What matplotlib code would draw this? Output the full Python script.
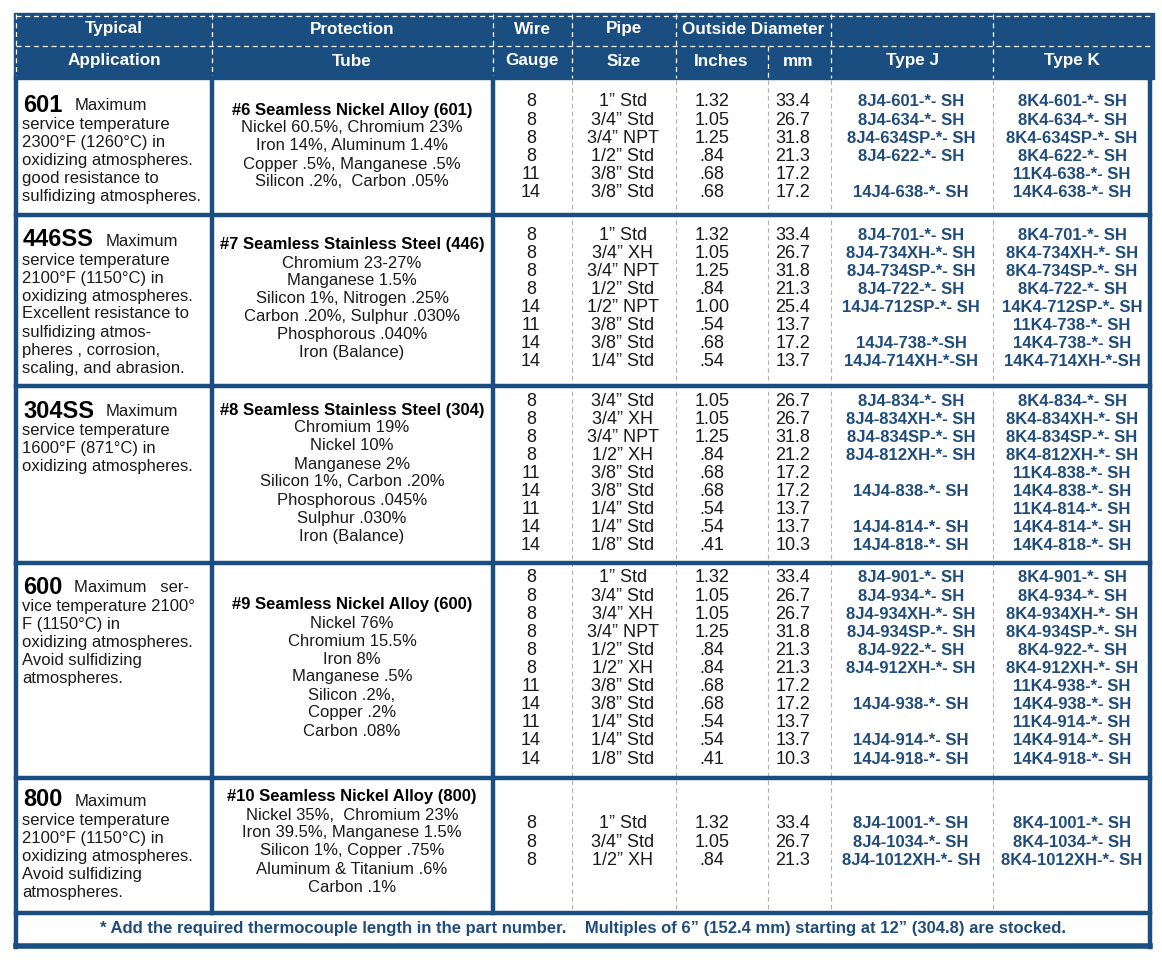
import matplotlib.pyplot as plt
from matplotlib.patches import Rectangle

# table contents, one list per section
app_codes = ['601', '446SS', '304SS', '600', '800']
app_texts = [
    ['Maximum', 'service temperature', '2300°F (1260°C) in', 'oxidizing atmospheres.',
     'good resistance to', 'sulfidizing atmospheres.'],
    ['Maximum', 'service temperature', '2100°F (1150°C) in', 'oxidizing atmospheres.',
     'Excellent resistance to', 'sulfidizing atmos-', 'pheres , corrosion,', 'scaling, and abrasion.'],
    ['Maximum', 'service temperature', '1600°F (871°C) in', 'oxidizing atmospheres.'],
    ['Maximum   ser-', 'vice temperature 2100°', 'F (1150°C) in', 'oxidizing atmospheres.',
     'Avoid sulfidizing', 'atmospheres.'],
    ['Maximum', 'service temperature', '2100°F (1150°C) in', 'oxidizing atmospheres.',
     'Avoid sulfidizing', 'atmospheres.'],
]
tube_titles = ['#6 Seamless Nickel Alloy (601)', '#7 Seamless Stainless Steel (446)',
               '#8 Seamless Stainless Steel (304)', '#9 Seamless Nickel Alloy (600)',
               '#10 Seamless Nickel Alloy (800)']
tube_lines = [
    ['Nickel 60.5%, Chromium 23%', 'Iron 14%, Aluminum 1.4%', 'Copper .5%, Manganese .5%',
     'Silicon .2%,  Carbon .05%'],
    ['Chromium 23-27%', 'Manganese 1.5%', 'Silicon 1%, Nitrogen .25%', 'Carbon .20%, Sulphur .030%',
     'Phosphorous .040%', 'Iron (Balance)'],
    ['Chromium 19%', 'Nickel 10%', 'Manganese 2%', 'Silicon 1%, Carbon .20%', 'Phosphorous .045%',
     'Sulphur .030%', 'Iron (Balance)'],
    ['Nickel 76%', 'Chromium 15.5%', 'Iron 8%', 'Manganese .5%', 'Silicon .2%,', 'Copper .2%',
     'Carbon .08%'],
    ['Nickel 35%,  Chromium 23%', 'Iron 39.5%, Manganese 1.5%', 'Silicon 1%, Copper .75%',
     'Aluminum & Titanium .6%', 'Carbon .1%'],
]
gauges = [
    ['8', '8', '8', '8', '11', '14'],
    ['8', '8', '8', '8', '14', '11', '14', '14'],
    ['8', '8', '8', '8', '11', '14', '11', '14', '14'],
    ['8', '8', '8', '8', '8', '8', '11', '14', '11', '14', '14'],
    ['8', '8', '8'],
]
pipes = [
    ['1” Std', '3/4” Std', '3/4” NPT', '1/2” Std', '3/8” Std', '3/8” Std'],
    ['1” Std', '3/4” XH', '3/4” NPT', '1/2” Std', '1/2” NPT', '3/8” Std', '3/8” Std', '1/4” Std'],
    ['3/4” Std', '3/4” XH', '3/4” NPT', '1/2” XH', '3/8” Std', '3/8” Std', '1/4” Std', '1/4” Std',
     '1/8” Std'],
    ['1” Std', '3/4” Std', '3/4” XH', '3/4” NPT', '1/2” Std', '1/2” XH', '3/8” Std', '3/8” Std',
     '1/4” Std', '1/4” Std', '1/8” Std'],
    ['1” Std', '3/4” Std', '1/2” XH'],
]
od_inches = [
    ['1.32', '1.05', '1.25', '.84', '.68', '.68'],
    ['1.32', '1.05', '1.25', '.84', '1.00', '.54', '.68', '.54'],
    ['1.05', '1.05', '1.25', '.84', '.68', '.68', '.54', '.54', '.41'],
    ['1.32', '1.05', '1.05', '1.25', '.84', '.84', '.68', '.68', '.54', '.54', '.41'],
    ['1.32', '1.05', '.84'],
]
od_mm = [
    ['33.4', '26.7', '31.8', '21.3', '17.2', '17.2'],
    ['33.4', '26.7', '31.8', '21.3', '25.4', '13.7', '17.2', '13.7'],
    ['26.7', '26.7', '31.8', '21.2', '17.2', '17.2', '13.7', '13.7', '10.3'],
    ['33.4', '26.7', '26.7', '31.8', '21.3', '21.3', '17.2', '17.2', '13.7', '13.7', '10.3'],
    ['33.4', '26.7', '21.3'],
]
type_j = [
    ['8J4-601-*- SH', '8J4-634-*- SH', '8J4-634SP-*- SH', '8J4-622-*- SH', '', '14J4-638-*- SH'],
    ['8J4-701-*- SH', '8J4-734XH-*- SH', '8J4-734SP-*- SH', '8J4-722-*- SH', '14J4-712SP-*- SH', '',
     '14J4-738-*-SH', '14J4-714XH-*-SH'],
    ['8J4-834-*- SH', '8J4-834XH-*- SH', '8J4-834SP-*- SH', '8J4-812XH-*- SH', '', '14J4-838-*- SH', '',
     '14J4-814-*- SH', '14J4-818-*- SH'],
    ['8J4-901-*- SH', '8J4-934-*- SH', '8J4-934XH-*- SH', '8J4-934SP-*- SH', '8J4-922-*- SH',
     '8J4-912XH-*- SH', '', '14J4-938-*- SH', '', '14J4-914-*- SH', '14J4-918-*- SH'],
    ['8J4-1001-*- SH', '8J4-1034-*- SH', '8J4-1012XH-*- SH'],
]
type_k = [
    ['8K4-601-*- SH', '8K4-634-*- SH', '8K4-634SP-*- SH', '8K4-622-*- SH', '11K4-638-*- SH',
     '14K4-638-*- SH'],
    ['8K4-701-*- SH', '8K4-734XH-*- SH', '8K4-734SP-*- SH', '8K4-722-*- SH', '14K4-712SP-*- SH',
     '11K4-738-*- SH', '14K4-738-*- SH', '14K4-714XH-*-SH'],
    ['8K4-834-*- SH', '8K4-834XH-*- SH', '8K4-834SP-*- SH', '8K4-812XH-*- SH', '11K4-838-*- SH',
     '14K4-838-*- SH', '11K4-814-*- SH', '14K4-814-*- SH', '14K4-818-*- SH'],
    ['8K4-901-*- SH', '8K4-934-*- SH', '8K4-934XH-*- SH', '8K4-934SP-*- SH', '8K4-922-*- SH',
     '8K4-912XH-*- SH', '11K4-938-*- SH', '14K4-938-*- SH', '11K4-914-*- SH', '14K4-914-*- SH',
     '14K4-918-*- SH'],
    ['8K4-1001-*- SH', '8K4-1034-*- SH', '8K4-1012XH-*- SH'],
]
footer = ('* Add the required thermocouple length in the part number.    '
          'Multiples of 6” (152.4 mm) starting at 12” (304.8) are stocked.')

# layout (pixel units)
BLUE = '#1a4e80'
TXT_BLUE = '#1f4c7c'
TXT = '#1a1a1a'
SANS = ['Liberation Sans', 'DejaVu Sans']
NARROW = ['Liberation Sans Narrow', 'Liberation Sans', 'DejaVu Sans']

sec_bot = [215, 386, 563, 778, 913]
row0 = [102, 235, 401, 578, 824]
app_y0 = [105, 240, 411, 587, 800]
tube_y0 = [110, 245, 410, 605, 797]
step = 18.1

fig = plt.figure(figsize=(11.62, 9.64), dpi=100)
ax = fig.add_axes([0, 0, 1, 1])
ax.set_xlim(0, 1162)
ax.set_ylim(964, 0)
ax.axis('off')

# header band
ax.add_patch(Rectangle((14, 13), 1140, 66, color=BLUE, zorder=1))
dash = dict(color='white', lw=0.9, ls=(0, (4, 3)), zorder=2)
ax.plot([16, 1152], [46, 46], **dash)
ax.plot([16, 1152], [15.5, 15.5], **dash)
ax.plot([15.5, 15.5], [14, 78], **dash)
for x in [212, 493, 572, 676, 831, 993]:
    ax.plot([x, x], [14, 78], **dash)
ax.plot([768, 768], [46, 78], **dash)

hb = dict(color='white', fontsize=12.3, fontweight='bold', ha='center', va='center', zorder=3)
ax.text(114, 29, 'Typical', family=SANS, **hb)
ax.text(114, 61, 'Application', family=SANS, **hb)
ax.text(352, 29, 'Protection', family=SANS, **hb)
ax.text(352, 61, 'Tube', family=SANS, **hb)
ax.text(532, 29, 'Wire', family=NARROW, **hb)
ax.text(532, 61, 'Gauge', family=NARROW, **hb)
ax.text(624, 29, 'Pipe', family=NARROW, **hb)
ax.text(624, 61, 'Size', family=NARROW, **hb)
ax.text(753, 29, 'Outside Diameter', family=NARROW, **hb)
ax.text(721, 61, 'Inches', family=NARROW, **hb)
ax.text(798, 61, 'mm', family=NARROW, **hb)
ax.text(912, 61, 'Type J', family=SANS, **hb)
ax.text(1072, 61, 'Type K', family=SANS, **hb)

# dashed grey dividers in the data columns
for x in [572, 676, 768, 831, 993]:
    ax.plot([x, x], [80, 911], color='#b0b0b0', lw=0.8, ls=(0, (4, 3)), zorder=1)

# thick blue frame
thick = dict(color=BLUE, lw=3.2, solid_capstyle='projecting', zorder=4)
ax.plot([16, 16], [78, 947], **thick)
ax.plot([1150, 1150], [78, 947], **thick)
ax.plot([212, 212], [78, 913], **thick)
ax.plot([493, 493], [78, 913], **thick)
for y in sec_bot:
    ax.plot([16, 1150], [y, y], **thick)
ax.plot([16, 1150], [946, 946], color=BLUE, lw=4, solid_capstyle='projecting', zorder=4)

fig.canvas.draw()
renderer = fig.canvas.get_renderer()

for s in range(5):
    # application column
    code = ax.text(23, app_y0[s], app_codes[s], family=SANS, fontsize=17, fontweight='bold',
                   color='black', ha='left', va='center')
    bb = code.get_window_extent(renderer)
    x_end = ax.transData.inverted().transform((bb.x1, bb.y0))[0]
    ax.text(x_end + 12, app_y0[s] + 1, app_texts[s][0], family=SANS, fontsize=12, color=TXT,
            ha='left', va='center')
    for i, line in enumerate(app_texts[s][1:]):
        ax.text(22, app_y0[s] + 20 + i * 18, line, family=SANS, fontsize=12, color=TXT,
                ha='left', va='center')

    # protection tube column
    ax.text(352, tube_y0[s], tube_titles[s], family=SANS, fontsize=12, fontweight='bold',
            color='black', ha='center', va='center')
    for i, line in enumerate(tube_lines[s]):
        ax.text(352, tube_y0[s] + 18 * (i + 1), line, family=SANS, fontsize=12, color=TXT,
                ha='center', va='center')

    # data rows
    for i in range(len(gauges[s])):
        y = row0[s] + i * step
        ax.text(531, y, gauges[s][i], family=NARROW, fontsize=13, color=TXT, ha='center', va='center')
        ax.text(623, y, pipes[s][i], family=NARROW, fontsize=13, color=TXT, ha='center', va='center')
        ax.text(712, y, od_inches[s][i], family=NARROW, fontsize=13, color=TXT, ha='center', va='center')
        ax.text(793, y, od_mm[s][i], family=NARROW, fontsize=13, color=TXT, ha='center', va='center')
        ax.text(911, y, type_j[s][i], family=SANS, fontsize=12, fontweight='bold', color=TXT_BLUE,
                ha='center', va='center')
        ax.text(1072, y, type_k[s][i], family=SANS, fontsize=12, fontweight='bold', color=TXT_BLUE,
                ha='center', va='center')

ax.text(583, 929, footer, family=SANS, fontsize=12, fontweight='bold', color=TXT_BLUE,
        ha='center', va='center')

fig.savefig('out.png', dpi=100, facecolor='white')
